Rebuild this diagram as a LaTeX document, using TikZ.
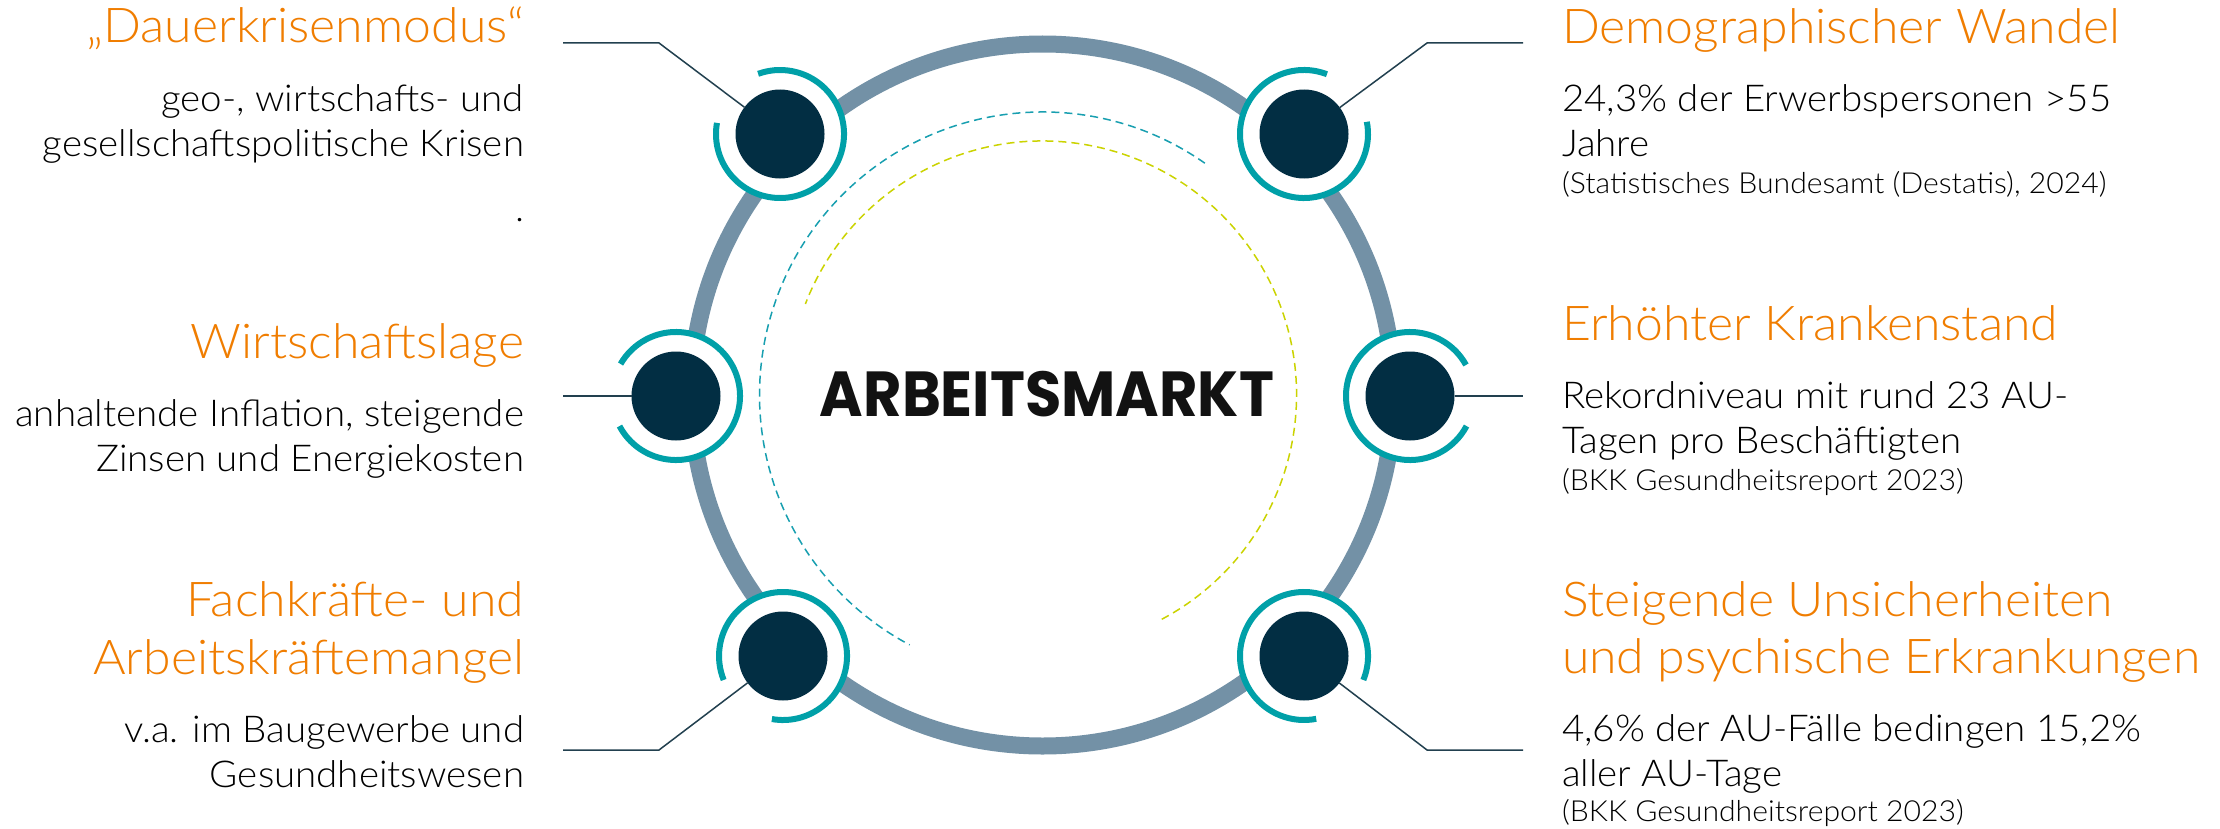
\documentclass[tikz,border=0pt]{standalone}
\usepackage{fontspec}
\usepackage{graphicx}
\IfFontExistsTF{Lato Light}{\setmainfont{Lato Light}[FakeStretch=1.04]}{\setmainfont{Liberation Sans}}
\newfontfamily\arbfont{Poppins}
\definecolor{orng}{HTML}{F07D00}
\definecolor{navy}{HTML}{022E43}
\definecolor{tealc}{HTML}{00A0A8}
\definecolor{ringgray}{HTML}{7391A6}
\definecolor{tealdashc}{HTML}{189FB0}
\definecolor{yelc}{HTML}{CBD300}
\definecolor{connc}{HTML}{22404F}
\begin{document}
\begin{tikzpicture}[x=0.5pt,y=-0.5pt,
  every node/.style={inner sep=0pt,outer sep=0pt},
  ringst/.style={draw=ringgray,line width=8.5pt},
  tdash/.style={draw=tealdashc,line width=0.75pt,dash pattern=on 4pt off 2.5pt},
  ydash/.style={draw=yelc,line width=0.75pt,dash pattern=on 4pt off 2.5pt},
  dotst/.style={circle,fill=navy,minimum size=44.5pt},
  tarc/.style={draw=tealc,line width=3pt},
  conn/.style={draw=connc,line width=0.75pt},
  head/.style={text=orng,font=\fontsize{24}{28}\selectfont},
  bodyt/.style={text=black,font=\fontsize{18.5}{22}\selectfont},
  smallt/.style={text=black,font=\fontsize{14.5}{17}\selectfont},
  lt/.style={anchor=base east},
  rt/.style={anchor=base west}]
\fill[white] (0,0) rectangle (2220,829);
\useasboundingbox (0,0) rectangle (2220,829);

\coordinate (ctr) at (1042.5,395);
\coordinate (pL) at (676,396);
\coordinate (pTL) at (780,134);
\coordinate (pBL) at (783,656);
\coordinate (pR) at (1410,396);
\coordinate (pTR) at (1304,134);
\coordinate (pBR) at (1304,656);

% big ring
\draw[ringst] (ctr) circle[radius=351];
% dashed arcs
\draw[tdash] ([shift={(-55:283)}]ctr) arc[start angle=-55,end angle=-242,radius=283];
\draw[ydash] ([shift={(62:254)}]ctr) arc[start angle=62,end angle=-159,radius=254];

% white halos
\foreach \p in {pL,pTL,pBL,pR,pTR,pBR}{\fill[white] (\p) circle[radius=66];}

% dark node circles
\node[dotst] (nL) at (pL) {};
\node[dotst] (nTL) at (pTL) {};
\node[dotst] (nBL) at (pBL) {};
\node[dotst] (nR) at (pR) {};
\node[dotst] (nTR) at (pTR) {};
\node[dotst] (nBR) at (pBR) {};

% teal open arcs
\draw[tarc] ([shift={(-208:64)}]nL.center) arc[start angle=-208,end angle=-510,radius=64];
\draw[tarc] ([shift={(-170:64)}]nTL.center) arc[start angle=-170,end angle=-470,radius=64];
\draw[tarc] ([shift={(-260:64)}]nBL.center) arc[start angle=-260,end angle=-562,radius=64];
\draw[tarc] ([shift={(-29:64)}]nR.center) arc[start angle=-29,end angle=-332,radius=64];
\draw[tarc] ([shift={(-69:64)}]nTR.center) arc[start angle=-69,end angle=-371,radius=64];
\draw[tarc] ([shift={(22:64)}]nBR.center) arc[start angle=22,end angle=-281,radius=64];

% connectors
\coordinate (kTL) at (659,43);   \coordinate (eTL) at (563,43);
\coordinate (eL) at (563,396);
\coordinate (kBL) at (659,750);  \coordinate (eBL) at (563,750);
\coordinate (kTR) at (1427,43);  \coordinate (eTR) at (1523,43);
\coordinate (eR) at (1523,396);
\coordinate (kBR) at (1427,750); \coordinate (eBR) at (1523,750);
\draw[conn] (nTL) -- (kTL) -- (eTL);
\draw[conn] (nL) -- (eL);
\draw[conn] (nBL) -- (kBL) -- (eBL);
\draw[conn] (nTR) -- (kTR) -- (eTR);
\draw[conn] (nR) -- (eR);
\draw[conn] (nBR) -- (kBR) -- (eBR);

% title
\node[anchor=base,text=black!93] (title) at (1047,416) {\resizebox{227pt}{22.65pt}{\arbfont\bfseries ARBEITSMARKT}};

% left column
\node[head,lt] (l1) at (524,43) {„Dauerkrisenmodus“};
\node[bodyt,lt] (l2) at (524,111.7) {geo-, wirtschafts- und};
\node[bodyt,lt] (l3) at (524,156.7) {gesellschaftspolitische Krisen};
\node[bodyt,lt] (l4) at (524,221.7) {.};
\node[head,lt] (l5) at (524,358.3) {Wirtschaftslage};
\node[bodyt,lt] (l6) at (524,426.7) {anhaltende Inflation, steigende};
\node[bodyt,lt] (l7) at (524,471.7) {Zinsen und Energiekosten};
\node[head,lt] (l8) at (524,616.7) {Fachkräfte- und};
\node[head,lt] (l9) at (524,674) {Arbeitskräftemangel};
\node[bodyt,lt] (l10) at (524,742.3) {v.a. im Baugewerbe und};
\node[bodyt,lt] (l11) at (524,787.3) {Gesundheitswesen};

% right column
\node[head,rt] (r1) at (1562,43.3) {Demographischer Wandel};
\node[bodyt,rt] (r2) at (1562,111.7) {24,3\% der Erwerbspersonen >55};
\node[bodyt,rt] (r3) at (1562,156) {Jahre};
\node[smallt,rt] (r4) at (1562,193.3) {(Statistisches Bundesamt (Destatis), 2024)};
\node[head,rt] (r5) at (1562,340.7) {Erhöhter Krankenstand};
\node[bodyt,rt] (r6) at (1562,408.3) {Rekordniveau mit rund 23 AU-};
\node[bodyt,rt] (r7) at (1562,453.3) {Tagen pro Beschäftigten};
\node[smallt,rt] (r8) at (1562,490.7) {(BKK Gesundheitsreport 2023)};
\node[head,rt] (r9) at (1562,616.7) {Steigende Unsicherheiten};
\node[head,rt] (r10) at (1562,673.3) {und psychische Erkrankungen};
\node[bodyt,rt] (r11) at (1562,741.7) {4,6\% der AU-Fälle bedingen 15,2\%};
\node[bodyt,rt] (r12) at (1562,786.7) {aller AU-Tage};
\node[smallt,rt] (r13) at (1562,821.7) {(BKK Gesundheitsreport 2023)};
\end{tikzpicture}
\end{document}
